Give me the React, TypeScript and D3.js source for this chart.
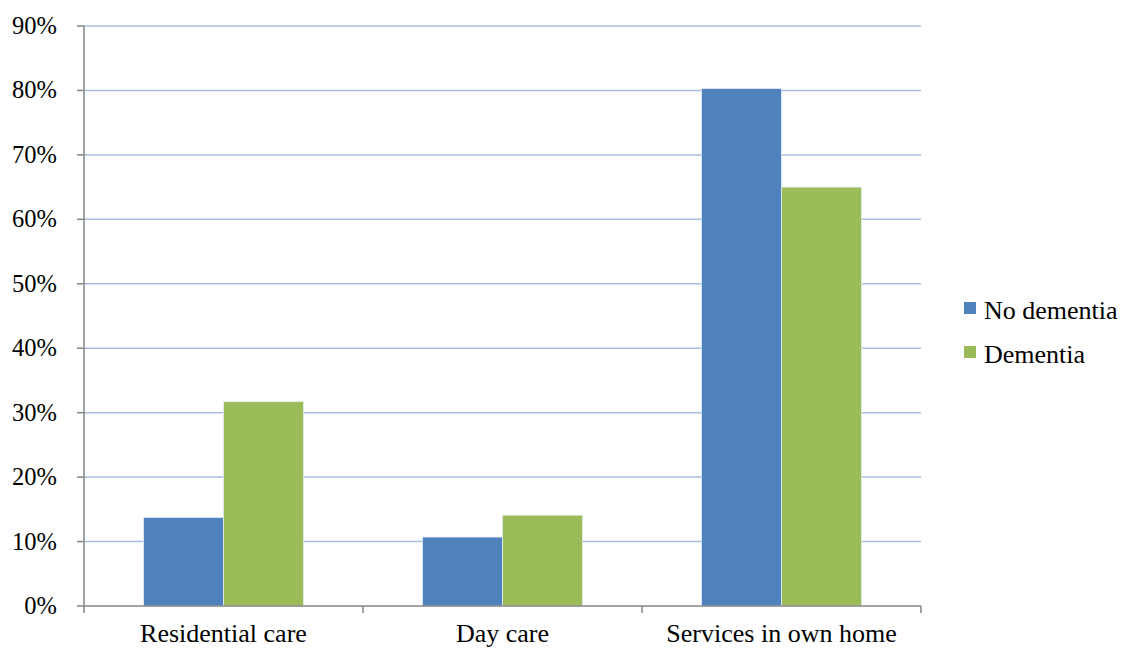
import React from "react";
import * as d3 from "d3";

const categories = ["Residential care", "Day care", "Services in own home"];
const seriesNames = ["No dementia", "Dementia"];
const noDementia = [0.1375, 0.107, 0.803];
const dementia = [0.317, 0.141, 0.650];
const yTicks = [0, 0.1, 0.2, 0.3, 0.4, 0.5, 0.6, 0.7, 0.8, 0.9];
const colors = ["#4F81BD", "#9BBB59"];

const W = 1123;
const H = 648;
const left = 84;
const right = 921;
const top = 26;
const bottom = 606;
const font = "'Liberation Serif', 'Times New Roman', serif";

export default function App() {
  const x = d3.scaleBand<string>().domain(categories).range([left, right]).paddingInner(0).paddingOuter(0);
  const y = d3.scaleLinear().domain([0, 0.9]).range([bottom, top]);
  const barW = 80;
  const series = [noDementia, dementia];
  const fmt = d3.format(".0%");

  return (
    <svg width={W} height={H} style={{ position: "absolute", left: 0, top: 0, background: "#fff" }}>
      {yTicks.map((t) => (
        <g key={t}>
          {t > 0 && (
            <line x1={left} x2={right} y1={y(t)} y2={y(t)} stroke="#A7BFDE" strokeWidth={1.5} />
          )}
          <line x1={left - 7} x2={left} y1={y(t)} y2={y(t)} stroke="#868686" strokeWidth={1.5} />
          <text x={57} y={y(t) + 8} textAnchor="end" fontFamily={font} fontSize={24.5} fill="#000">
            {fmt(t)}
          </text>
        </g>
      ))}
      {categories.map((c, i) =>
        series.map((s, j) => {
          const cx = x(c)! + x.bandwidth() / 2;
          const bx = cx - barW + j * barW;
          return (
            <rect
              key={c + j}
              x={bx}
              y={y(s[i])}
              width={barW}
              height={bottom - y(s[i])}
              fill={colors[j]}
              stroke="#E4ECF5"
              strokeWidth={0.8}
            />
          );
        })
      )}
      <line x1={left} x2={left} y1={top} y2={bottom} stroke="#868686" strokeWidth={1.5} />
      <line x1={left} x2={right} y1={bottom} y2={bottom} stroke="#868686" strokeWidth={1.5} />
      {[0, 1, 2, 3].map((k) => {
        const xx = left + k * x.bandwidth();
        return <line key={k} x1={xx} x2={xx} y1={bottom} y2={bottom + 7} stroke="#868686" strokeWidth={1.5} />;
      })}
      {categories.map((c) => (
        <text
          key={c}
          x={x(c)! + x.bandwidth() / 2}
          y={642}
          textAnchor="middle"
          fontFamily={font}
          fontSize={26}
          fill="#000"
        >
          {c}
        </text>
      ))}
      {seriesNames.map((n, j) => (
        <g key={n}>
          <rect x={964} y={302 + j * 44} width={12} height={12} fill={colors[j]} />
          <text x={984} y={319 + j * 44} fontFamily={font} fontSize={26} fill="#000">
            {n}
          </text>
        </g>
      ))}
    </svg>
  );
}
